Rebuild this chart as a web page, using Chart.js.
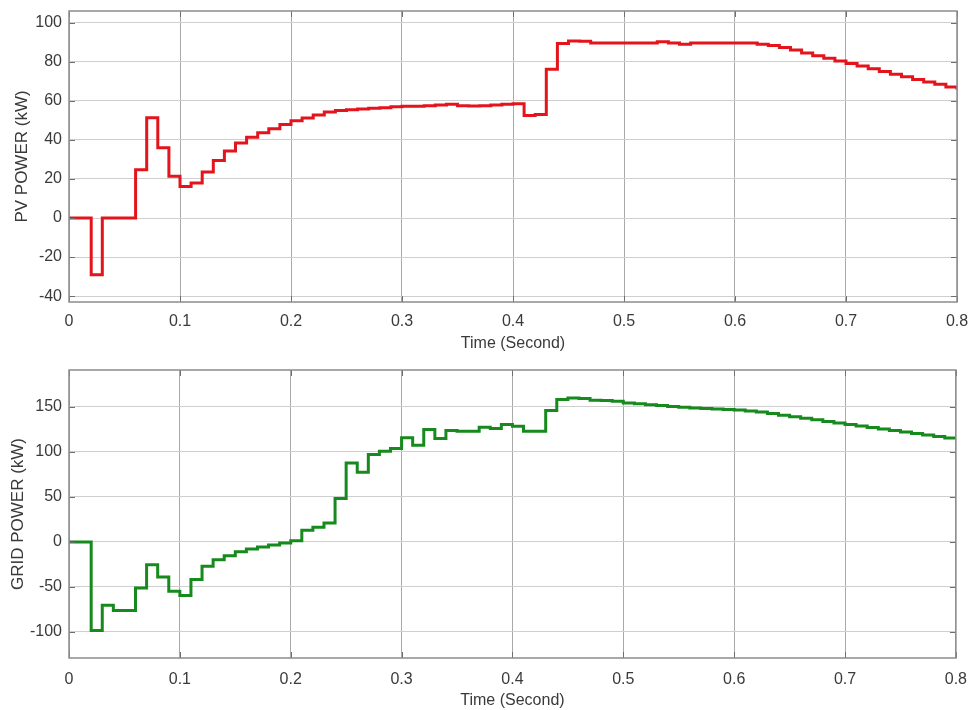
<!DOCTYPE html>
<html>
<head>
<meta charset="utf-8">
<script src="https://cdn.jsdelivr.net/npm/chart.js@4/dist/chart.umd.min.js"></script>
<style>
  body { margin: 0; background: #fff; }
  .box { position: absolute; left: 0; width: 979px; height: 355px; }
  #pvBox { top: 0; }
  #gridBox { top: 355px; }
</style>
</head>
<body>
<div class="box" id="pvBox"><canvas id="pvChart" width="979" height="355"></canvas></div>
<div class="box" id="gridBox"><canvas id="gridChart" width="979" height="355"></canvas></div>
<script>
// サンプル時刻 (秒)
const times = [
  0.00, 0.01, 0.02, 0.03, 0.04, 0.05, 0.06, 0.07, 0.08, 0.09,
  0.10, 0.11, 0.12, 0.13, 0.14, 0.15, 0.16, 0.17, 0.18, 0.19,
  0.20, 0.21, 0.22, 0.23, 0.24, 0.25, 0.26, 0.27, 0.28, 0.29,
  0.30, 0.31, 0.32, 0.33, 0.34, 0.35, 0.36, 0.37, 0.38, 0.39,
  0.40, 0.41, 0.42, 0.43, 0.44, 0.45, 0.46, 0.47, 0.48, 0.49,
  0.50, 0.51, 0.52, 0.53, 0.54, 0.55, 0.56, 0.57, 0.58, 0.59,
  0.60, 0.61, 0.62, 0.63, 0.64, 0.65, 0.66, 0.67, 0.68, 0.69,
  0.70, 0.71, 0.72, 0.73, 0.74, 0.75, 0.76, 0.77, 0.78, 0.79,
  0.80
];

// PV 出力 (kW)
const pvPower = [
  0, 0, -29, 0, 0, 0, 24.7, 51.4, 36, 21.4,
  16.2, 17.9, 23.5, 29.5, 34.3, 38.4, 41.4, 43.7, 45.7, 47.9,
  49.8, 51.2, 52.7, 54.3, 55, 55.4, 55.8, 56.2, 56.5, 57,
  57.2, 57.2, 57.5, 57.9, 58.2, 57.5, 57.4, 57.5, 57.9, 58.2,
  58.5, 52.5, 53, 76.2, 89.3, 90.7, 90.5, 89.6, 89.6, 89.6,
  89.6, 89.6, 89.6, 90.3, 89.6, 89, 89.6, 89.6, 89.6, 89.6,
  89.6, 89.6, 89, 88.3, 87.3, 86, 84.5, 83.1, 81.8, 80.4,
  79.1, 77.8, 76.4, 75, 73.6, 72.3, 70.9, 69.7, 68.5, 67.1,
  65.7
];

// 系統電力 (kW)
const gridPower = [
  0, 0, -98.4, -70.4, -76.2, -76.2, -51.1, -25.3, -38.9, -54.8,
  -59.6, -41.9, -27.1, -19.7, -15.3, -10.9, -7.9, -5.7, -3.5, -1.3,
  1.3, 13, 16.3, 21.1, 48.1, 87.8, 77.4, 97, 100.7, 103.7,
  115.6, 107.4, 124.8, 114.8, 123.7, 123, 123, 127.4, 126, 130.4,
  128.5, 123, 123, 146, 158.1, 160, 159.3, 157.4, 157, 156.3,
  154.4, 153.5, 152.5, 151.5, 150.5, 149.5, 148.8, 148.2, 147.6, 147.1,
  146.5, 145.5, 144.2, 142.6, 140.8, 139, 137.3, 135.6, 133.9, 132.2,
  130.4, 128.7, 127.1, 125.4, 123.8, 122.2, 120.5, 118.8, 117.1, 115.4,
  113.7
];

const xTickLabels = ['0', '0.1', '0.2', '0.3', '0.4', '0.5', '0.6', '0.7', '0.8'];

const FONT = 'Liberation Sans, Arial, sans-serif';
const TEXT_COLOR = '#3a3a3a';

// 枠線と内向きの目盛り (MATLAB 風)
const boxPlugin = {
  id: 'boxPlugin',
  afterDraw(chart) {
    const { ctx, chartArea: a, scales } = chart;
    ctx.save();
    ctx.strokeStyle = '#6e6e6e';
    ctx.lineWidth = 1;
    scales.x.ticks.forEach(t => {
      const px = Math.round(scales.x.getPixelForValue(t.value)) + 0.5;
      ctx.beginPath();
      ctx.moveTo(px, a.bottom); ctx.lineTo(px, a.bottom - 6);
      ctx.moveTo(px, a.top); ctx.lineTo(px, a.top + 6);
      ctx.stroke();
    });
    scales.y.ticks.forEach(t => {
      const py = Math.round(scales.y.getPixelForValue(t.value)) + 0.5;
      ctx.beginPath();
      ctx.moveTo(a.left, py); ctx.lineTo(a.left + 6, py);
      ctx.moveTo(a.right, py); ctx.lineTo(a.right - 6, py);
      ctx.stroke();
    });
    ctx.strokeStyle = '#8c8c8c';
    ctx.lineWidth = 1.5;
    ctx.strokeRect(a.left, a.top, a.right - a.left, a.bottom - a.top);
    ctx.restore();
  }
};

function makeChart(canvasId, values, color, yTitle, yMin, yMax, yStep, padTop, xAxisHeight, xTickPad, xTitlePad, yTitlePad) {
  const ctx = document.getElementById(canvasId).getContext('2d');
  return new Chart(ctx, {
    type: 'line',
    data: {
      datasets: [{
        data: times.map((t, i) => ({ x: t, y: values[i] })),
        borderColor: color,
        borderWidth: 3,
        pointRadius: 0,
        stepped: 'before',
        fill: false,
        borderJoinStyle: 'miter'
      }]
    },
    options: {
      responsive: false,
      animation: false,
      layout: { padding: { top: padTop, right: 22, left: 0, bottom: 0 } },
      plugins: { legend: { display: false }, tooltip: { enabled: false } },
      scales: {
        x: {
          type: 'linear',
          min: 0,
          max: 0.8,
          ticks: {
            stepSize: 0.1,
            padding: xTickPad,
            color: TEXT_COLOR,
            font: { family: FONT, size: 16 },
            maxRotation: 0,
            callback: (v, i) => xTickLabels[i]
          },
          grid: { color: '#a9a9a9', lineWidth: 1, drawTicks: false },
          border: { display: false },
          title: {
            display: true,
            text: 'Time (Second)',
            color: TEXT_COLOR,
            font: { family: FONT, size: 16 },
            padding: { top: 0, bottom: xTitlePad }
          },
          afterFit: s => { s.height = xAxisHeight; }
        },
        y: {
          min: yMin,
          max: yMax,
          ticks: {
            stepSize: yStep,
            includeBounds: false,
            padding: 7,
            color: TEXT_COLOR,
            font: { family: FONT, size: 16 }
          },
          grid: { color: '#cfcfcf', lineWidth: 1, drawTicks: false },
          border: { display: false },
          title: {
            display: true,
            text: yTitle,
            color: TEXT_COLOR,
            font: { family: FONT, size: 17 },
            padding: { top: yTitlePad, bottom: 0 }
          },
          afterFit: s => {
            s.width = 69;
            s.paddingTop = 0;
            s.paddingBottom = 0;
          }
        }
      }
    },
    plugins: [boxPlugin]
  });
}

document.addEventListener('DOMContentLoaded', () => {
  makeChart('pvChart', pvPower, '#e3141c', 'PV POWER (kW)', -43, 106, 20, 11, 53, 10, 2, 12);
  makeChart('gridChart', gridPower, '#168a1c', 'GRID POWER (kW)', -129, 191, 50, 15, 52, 12, 0, 8);
});
</script>
</body>
</html>
